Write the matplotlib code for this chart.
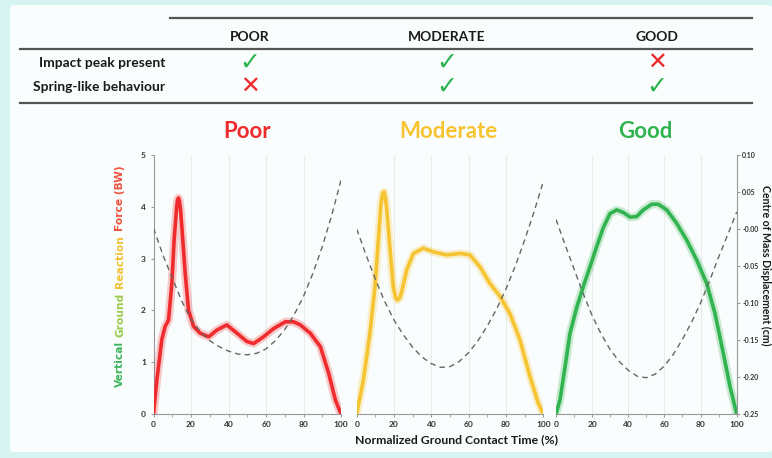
"""Running gait: vertical GRF and centre-of-mass displacement for poor / moderate / good."""
import matplotlib
matplotlib.use("Agg")
import matplotlib.pyplot as plt
from matplotlib.lines import Line2D
from matplotlib.patches import FancyBboxPatch
import numpy as np

plt.rcParams["font.family"] = ["Lato", "DejaVu Sans"]
plt.rcParams["font.weight"] = "bold"

# ---- data ----
CATEGORIES = ["POOR", "MODERATE", "GOOD"]
TITLES = ["Poor", "Moderate", "Good"]
ROW_LABELS = ["Impact peak present", "Spring-like behaviour"]
IMPACT_PEAK = [True, True, False]
SPRING_LIKE = [False, True, True]

poor_x = [0, 1.8, 4.4, 6.2, 8, 9.8, 11, 12.3, 12.8, 13.3, 13.8, 14.4, 15.1, 16.9, 18.7, 21.4, 24.9, 29.4,
          33.8, 39.1, 44.5, 49.8, 53.4, 58.7, 64.1, 70.3, 74.7, 78.3, 83.6, 89, 93.4, 97, 100]
poor_f = [0, 0.66, 1.43, 1.69, 1.81, 2.52, 3.36, 3.98, 4.13, 4.17, 4.12, 3.95, 3.62, 2.72, 2.0, 1.69, 1.56, 1.49,
          1.62, 1.72, 1.56, 1.40, 1.36, 1.49, 1.65, 1.78, 1.78, 1.72, 1.56, 1.30, 0.79, 0.27, 0]

mod_x = [0, 3.6, 7.1, 9.8, 11.6, 13.0, 13.9, 14.6, 15.3, 16.1, 17.9, 19.6, 20.8, 21.8, 23.0, 24.1, 26.8,
         30.4, 35.7, 41.1, 48.2, 55.4, 60.7, 66.1, 71.4, 76.8, 82.1, 87.5, 92.9, 97.3, 100]
mod_f = [0, 0.66, 1.56, 2.46, 3.36, 4.05, 4.26, 4.29, 4.2, 3.95, 3.17, 2.46, 2.25, 2.2, 2.24, 2.36, 2.78,
         3.10, 3.20, 3.13, 3.07, 3.10, 3.07, 2.84, 2.52, 2.27, 1.94, 1.43, 0.72, 0.21, 0]

good_x = [0, 2.2, 5, 7.7, 11.4, 15.1, 18.8, 22.5, 26.2, 29.9, 33.6, 37.3, 41, 44.6, 48.3, 53,
          56.6, 61.3, 66.8, 72.3, 77.9, 83.4, 88, 92.6, 96.3, 100]
good_f = [0, 0.27, 0.91, 1.55, 2.05, 2.46, 2.84, 3.23, 3.60, 3.87, 3.94, 3.89, 3.80, 3.81, 3.94,
          4.05, 4.05, 3.94, 3.68, 3.36, 2.97, 2.52, 1.94, 1.17, 0.53, 0]

com_x = [0, 5, 10, 15, 20, 25, 30, 35, 40, 45, 50, 55, 60, 65, 70, 75, 80, 85, 90, 95, 100]
poor_com = [0.001, -0.035, -0.066, -0.097, -0.122, -0.139, -0.151, -0.159, -0.165, -0.169, -0.170,
            -0.168, -0.162, -0.151, -0.136, -0.116, -0.091, -0.060, -0.024, 0.018, 0.066]
mod_com = [0.0, -0.035, -0.068, -0.098, -0.123, -0.143, -0.160, -0.173, -0.182, -0.187, -0.186,
           -0.179, -0.167, -0.151, -0.131, -0.108, -0.081, -0.050, -0.015, 0.023, 0.064]
good_com = [0.013, -0.021, -0.054, -0.087, -0.117, -0.142, -0.163, -0.179, -0.191, -0.199, -0.201,
            -0.196, -0.185, -0.169, -0.149, -0.126, -0.100, -0.070, -0.038, -0.008, 0.023]

FORCE = [(poor_x, poor_f), (mod_x, mod_f), (good_x, good_f)]
COM = [poor_com, mod_com, good_com]
COLORS = ["#ef2b2d", "#f6c431", "#31b350"]

fig = plt.figure(figsize=(7.72, 4.58), dpi=100)
fig.patch.set_facecolor("#d7f4f3")
fig.patches.append(FancyBboxPatch((0.013, 0.013), 0.987, 0.976, boxstyle="round,pad=0,rounding_size=0.006",
                                  transform=fig.transFigure, facecolor="#fafdfd", edgecolor="none",
                                  zorder=-10))

# ---- table on top ----
def hline(x0, x1, y):
    fig.add_artist(Line2D([x0 / 772, x1 / 772], [1 - y / 458] * 2, color="#555555", lw=1.6))

hline(170, 752, 18)
hline(20, 752, 49)
hline(20, 752, 103)
col_x = [250, 447, 657]
for cx, name in zip(col_x, CATEGORIES):
    fig.text(cx / 772, 1 - 37 / 458, name, ha="center", va="center", fontsize=10, color="#1a1a1a")
for ry, label, vals in zip([63, 87], ROW_LABELS, [IMPACT_PEAK, SPRING_LIKE]):
    fig.text(165 / 772, 1 - ry / 458, label, ha="right", va="center", fontsize=10, color="#1a1a1a")
    for cx, ok in zip(col_x, vals):
        fig.text(cx / 772, 1 - ry / 458, "✓" if ok else "✕", ha="center", va="center",
                 fontsize=18 if ok else 17, family="DejaVu Sans", fontweight="normal",
                 color="#2bb24c" if ok else "#ee2a2a")

# ---- panels ----
lefts = [153.5, 356.7, 556]
rights = [341, 543.3, 736.7]
bottom, top = 414, 155
for i in range(3):
    ax = fig.add_axes([lefts[i] / 772, 1 - bottom / 458, (rights[i] - lefts[i]) / 772, (bottom - top) / 458])
    ax.set_facecolor("none")
    xs, fs = FORCE[i]
    ax.plot(xs, fs, color=COLORS[i], lw=6, alpha=0.25, solid_capstyle="round", solid_joinstyle="round", zorder=3)
    ax.plot(xs, fs, color=COLORS[i], lw=2.6, solid_capstyle="round", solid_joinstyle="round", zorder=4)
    ax.set_xlim(0, 100)
    ax.set_ylim(0, 5)
    for g in [20, 40, 60, 80]:
        ax.axvline(g, color="#ebebeb", lw=0.8, zorder=0)
    ax.set_xticks([0, 20, 40, 60, 80, 100])
    ax.set_xticks(np.arange(0, 101, 10), minor=True)
    ax.tick_params(axis="x", which="both", length=2, color="#999999", labelsize=6, pad=3, labelcolor="#333333")
    for s in ["top", "right"]:
        ax.spines[s].set_visible(False)
    ax.spines["bottom"].set_color("#999999")
    if i == 0:
        ax.spines["left"].set_color("#999999")
        ax.set_yticks([0, 1, 2, 3, 4, 5])
        ax.tick_params(axis="y", length=2, color="#999999", labelsize=6, labelcolor="#333333")
    else:
        ax.spines["left"].set_visible(False)
        ax.set_yticks([])

    tw = ax.twinx()
    tw.plot(com_x, COM[i], color="#666666", lw=1.0, dashes=(4, 3), zorder=2)
    tw.set_ylim(-0.25, 0.10)
    tw.set_xlim(0, 100)
    for s in ["top", "left", "bottom"]:
        tw.spines[s].set_visible(False)
    if i == 2:
        tw.spines["right"].set_color("#999999")
        tw.set_yticks(np.arange(-0.25, 0.101, 0.05))
        tw.set_yticklabels([f"{v:.2f}" for v in np.arange(-0.25, 0.101, 0.05)])
        tw.tick_params(axis="y", length=2, pad=2, color="#999999", labelsize=5, labelcolor="#333333")
    else:
        tw.spines["right"].set_visible(False)
        tw.set_yticks([])

    fig.text([247, 448, 645][i] / 772, 1 - 131 / 458, TITLES[i], ha="center", va="center",
             fontsize=16, color=COLORS[i])

# multi-coloured y label, words chained bottom to top
words = [("Vertical", "#3bb55a"), ("Ground", "#9acb4b"), ("Reaction", "#f2c232"), ("Force (BW)", "#f0533c")]
prev = fig.text(120 / 772, 1 - 387 / 458, words[0][0], rotation=90, ha="center", va="bottom",
                fontsize=7.7, family="DejaVu Sans", color=words[0][1])
for word, col in words[1:]:
    prev = fig.axes[0].annotate(word, xy=(0.5, 1), xycoords=prev, xytext=(0, 3), textcoords="offset points",
                                rotation=90, ha="center", va="bottom", fontsize=7.7, family="DejaVu Sans",
                                color=col, annotation_clip=False)

fig.text(765.5 / 772, 1 - 265 / 458, "Centre of Mass Displacement (cm)", rotation=-90, ha="center",
         va="center", fontsize=7.6, color="#1a1a1a")
fig.text(457 / 772, 1 - 440 / 458, "Normalized Ground Contact Time (%)", ha="center", va="center",
         fontsize=8.8, color="#1a1a1a")

fig.savefig("out.png", dpi=100, facecolor=fig.get_facecolor())
